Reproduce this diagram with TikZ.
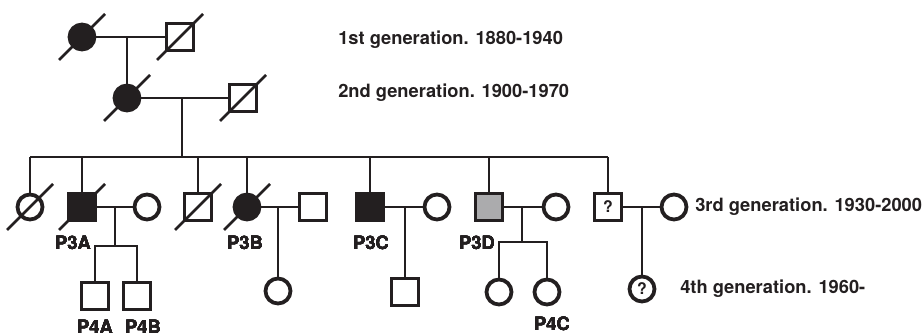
\documentclass[tikz,border=0pt]{standalone}
\usepackage{fontspec}
\setmainfont{TeX Gyre Heros}
\definecolor{ink}{HTML}{231F20}
\definecolor{carrier}{HTML}{ABABAD}
\newcommand{\deceased}[1]{\draw ([shift={(-23,23)}]#1.center) -- ([shift={(23,-23)}]#1.center);}
\begin{document}
\begin{tikzpicture}[x=1pt,y=-1pt, color=ink, line width=2.6pt,
    male/.style={draw, line width=3.8pt, minimum size=27pt, inner sep=0pt, fill=white,
      font=\fontsize{16}{16}\bfseries\selectfont},
    female/.style={draw, circle, line width=3.8pt, minimum size=25pt, inner sep=0pt, fill=white,
      font=\fontsize{16}{16}\bfseries\selectfont},
    lbl/.style={font=\fontsize{18.3}{20}\bfseries\selectfont, inner sep=0pt}]
  \useasboundingbox (0,0) rectangle (923,336);
  % generations 1 and 2
  \node[female, fill=ink] (g1f) at (82,37) {};
  \node[male] (g1m) at (180,37) {};
  \node[female, fill=ink] (g2f) at (127,98) {};
  \node[male] (g2m) at (243,98) {};
  \draw (g1f) -- (g1m);
  \draw (g2f.north) -- (g2f.north |- g1f.east);
  \draw (g2f) -- (g2m);
  \coordinate (sib3) at (182,157);
  \draw (sib3) -- (sib3 |- g2f.east);
  % generation 3
  \foreach \name/\x/\kind/\c in {c1/30/female/white, c2/82/male/ink, c3/198/male/white,
      c4/247/female/ink, c5/370/male/ink, c6/489/male/carrier}
    \node[\kind, fill=\c] (\name) at (\x,207) {};
  \node[male] (c7) at (608,207) {?};
  \foreach \name/\x/\kind in {w2/147/female, h4/313/male, w5/437/female,
      w6/556/female, w7/674/female}
    \node[\kind] (\name) at (\x,207) {};
  \draw (c1.north |- sib3) -- (c7.north |- sib3);
  \foreach \c in {c1,c2,c3,c4,c5,c6,c7}
    \draw (\c.north) -- (\c.north |- sib3);
  \foreach \a/\b in {c2/w2, c4/h4, c5/w5, c6/w6, c7/w7}
    \draw (\a) -- (\b);
  % generation 4
  \node[male] (p4a) at (95,296) {};
  \node[male] (p4b) at (137,296) {};
  \coordinate (sib4a) at (115,246);
  \draw (sib4a) -- (sib4a |- c2.east);
  \draw (p4a.north) |- (sib4a) -| (p4b.north);
  \node[female] (d4) at (278,291) {};
  \draw (d4.north) -- (d4.north |- c4.east);
  \node[male] (d5) at (405,292) {};
  \draw (d5.north) -- (d5.north |- c5.east);
  \node[female] (d6a) at (499,292) {};
  \node[female] (d6b) at (547,292) {};
  \coordinate (sib4c) at (522,242);
  \draw (sib4c) -- (sib4c |- c6.east);
  \draw (d6a.north) |- (sib4c) -| (d6b.north);
  \node[female] (d7) at (642,289) {?};
  \draw (d7.north) -- (d7.north |- c7.east);
  % deceased
  \foreach \n in {g1f,g1m,g2f,g2m,c1,c2,c3,c4}
    \deceased{\n}
  % labels
  \foreach \name/\xy/\t in {l3a/{(73,243)}/P3A, l3b/{(245,243)}/P3B, l3c/{(371,243)}/P3C,
      l3d/{(477,243)}/P3D, l4a/{(95,327)}/P4A, l4b/{(143,327)}/P4B, l4c/{(552,324)}/P4C}
    \node[lbl] (\name) at \xy {\t};
  \node[lbl, anchor=west] (gen1) at (337,40) {1st generation. 1880-1940};
  \node[lbl, anchor=west] (gen2) at (337,93) {2nd generation. 1900-1970};
  \node[lbl, anchor=west] (gen3) at (694,207) {3rd generation. 1930-2000};
  \node[lbl, anchor=west] (gen4) at (679,289) {4th generation. 1960-};
\end{tikzpicture}
\end{document}
